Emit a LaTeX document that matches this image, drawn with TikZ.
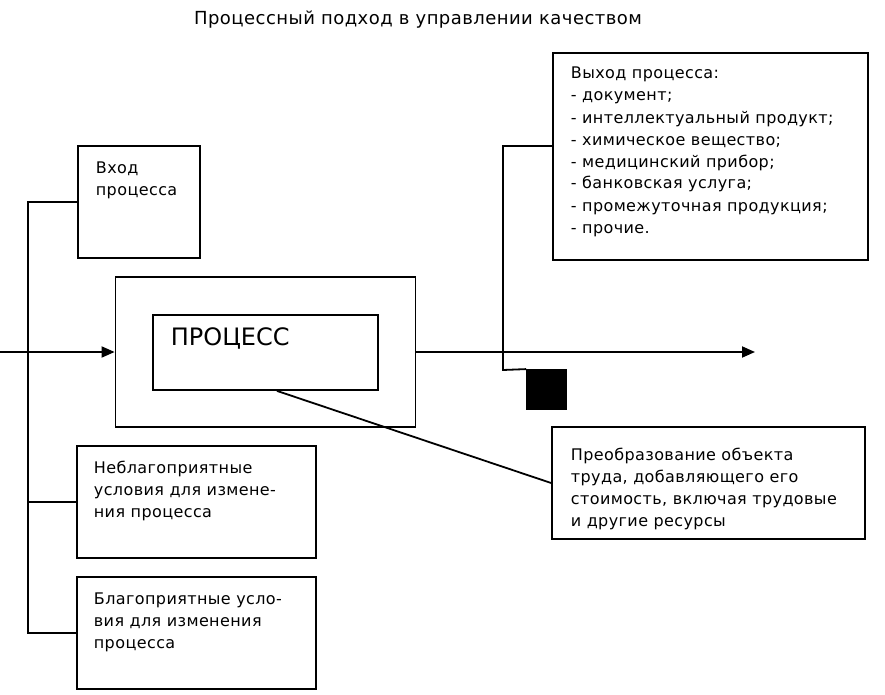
\documentclass[tikz,border=0pt]{standalone}
\usepackage{fontspec}
\setmainfont{DejaVu Sans}
\newfontfamily\boxfont{DejaVu Sans}[LetterSpace=2.5]
\usepackage{tikz}
\usetikzlibrary{arrows.meta,positioning}

\begin{document}
\begin{tikzpicture}[x=1pt, y=-1pt, line width=1.8pt,
    >={Triangle[length=13pt,width=11pt]},
    box/.style={draw, rectangle, inner sep=0pt},
    txt/.style={anchor=base west, inner sep=0pt, align=left,
      font=\boxfont\fontsize{16}{22}\selectfont}]
   \useasboundingbox (0,0) rectangle (885,695);

   \node[txt, anchor=base, font=\boxfont\fontsize{18}{22}\selectfont] (title) at (418,25) {Процессный подход в управлении качеством};

   %boxes
   \node[box, minimum width=122, minimum height=112] (in) at (139,202) {};
   \node[box, minimum width=300, minimum height=150] (outer) at (265.5,352) {};
   \node[box, minimum width=225, minimum height=75] (inner) at (265.5,352.5) {};
   \node[box, minimum width=315, minimum height=207] (out) at (710.5,156.5) {};
   \node[box, minimum width=313, minimum height=112] (tr) at (708.5,483) {};
   \node[box, minimum width=239, minimum height=112] (neg) at (196.5,502) {};
   \node[box, minimum width=239, minimum height=112] (fav) at (196.5,633) {};
   \node[box, fill=black, minimum width=39, minimum height=39] (sq) at (546.5,389.5) {};

   %texts (placed at the baseline of their last line)
   \node[txt] (intxt) at (95,195) {Вход\\процесса};
   \node[txt, font=\fontsize{24}{30}\selectfont] (proctxt) at (170,345) {ПРОЦЕСС};
   \node[txt] (outtxt) at (570,233) {Выход процесса:\\- документ;\\- интеллектуальный продукт;\\- химическое вещество;\\- медицинский прибор;\\- банковская услуга;\\- промежуточная продукция;\\- прочие.};
   \node[txt] (trtxt) at (570,526) {Преобразование объекта\\труда, добавляющего его\\стоимость, включая трудовые\\и другие ресурсы};
   \node[txt] (negtxt) at (93,517) {Неблагоприятные\\условия для измене-\\ния процесса};
   \node[txt] (favtxt) at (93,648) {Благоприятные усло-\\вия для изменения\\процесса};

   \coordinate (src) at (0,352);
   \coordinate (sink) at (755,352);
   \coordinate (bus) at (28,0);
   \coordinate (kink) at (503,370);

   \path[->]
    (src) edge (outer)
    (outer) edge (sink);

   %inputs and conditions
   \draw (in.west) -| (bus |- fav.west) -- (fav.west);
   \draw (neg.west) -- (bus |- neg.west);
   %output
   \draw ([yshift=10.5pt]out.west) -| (kink) -- (sq.north west);
   \draw ([xshift=11.5pt]inner.south) -- (tr.west);
\end{tikzpicture}
\end{document}
